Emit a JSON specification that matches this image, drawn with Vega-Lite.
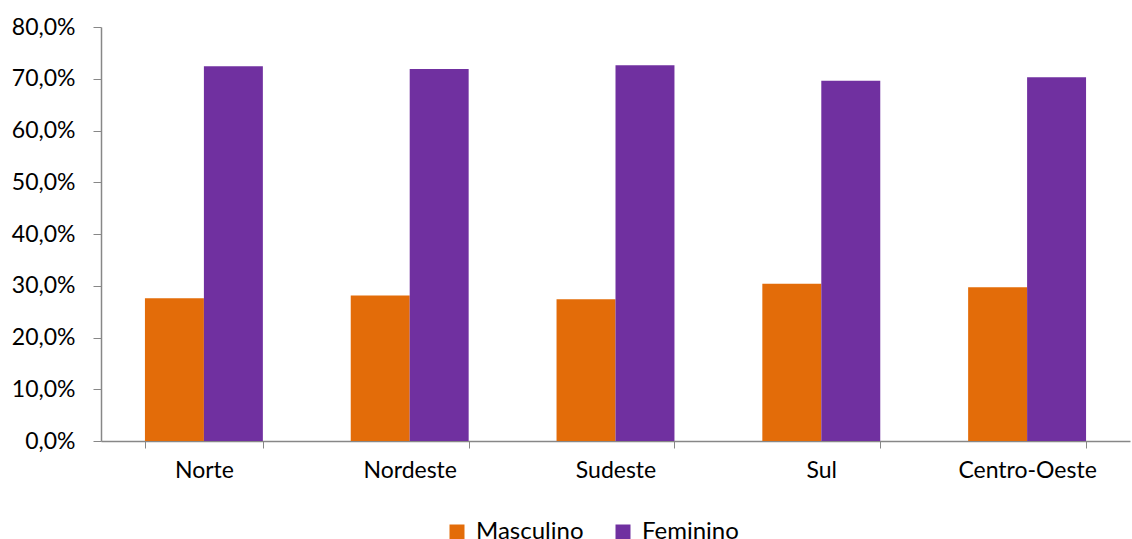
{
  "$schema": "https://vega.github.io/schema/vega-lite/v6.json",
  "autosize": "none",
  "width": 1029,
  "height": 414,
  "padding": {"left": 101, "top": 27, "right": 2, "bottom": 98},
  "background": "white",
  "config": {
    "view": {"stroke": null},
    "font": "Lato",
    "axis": {"labelFont": "Lato", "labelColor": "#000000", "labelFontSize": 23, "domainColor": "#878787", "tickColor": "#878787", "grid": false, "title": null}
  },
  "data": {
    "values": [
      {"regiao": "Norte", "sexo": "Masculino", "valor": 27.6},
      {"regiao": "Norte", "sexo": "Feminino", "valor": 72.4},
      {"regiao": "Nordeste", "sexo": "Masculino", "valor": 28.1},
      {"regiao": "Nordeste", "sexo": "Feminino", "valor": 71.9},
      {"regiao": "Sudeste", "sexo": "Masculino", "valor": 27.4},
      {"regiao": "Sudeste", "sexo": "Feminino", "valor": 72.6},
      {"regiao": "Sul", "sexo": "Masculino", "valor": 30.4},
      {"regiao": "Sul", "sexo": "Feminino", "valor": 69.6},
      {"regiao": "Centro-Oeste", "sexo": "Masculino", "valor": 29.7},
      {"regiao": "Centro-Oeste", "sexo": "Feminino", "valor": 70.3}
    ]
  },
  "mark": {"type": "bar"},
  "encoding": {
    "x": {
      "field": "regiao", "type": "nominal",
      "sort": ["Norte", "Nordeste", "Sudeste", "Sul", "Centro-Oeste"],
      "scale": {"paddingInner": 0.427, "paddingOuter": 0.2135},
      "axis": {"labelAngle": 0, "tickBand": "extent", "tickSize": 7, "labelPadding": 11, "domainWidth": 1.5}
    },
    "xOffset": {"field": "sexo", "type": "nominal", "sort": ["Masculino", "Feminino"], "scale": {"paddingInner": 0, "paddingOuter": 0}},
    "y": {
      "field": "valor", "type": "quantitative",
      "scale": {"domain": [0, 80], "nice": false},
      "axis": {"values": [0, 10, 20, 30, 40, 50, 60, 70, 80], "labelExpr": "replace(format(datum.value, '.1f'), '.', ',') + '%'", "tickSize": 8, "labelPadding": 18, "domainWidth": 1.5}
    },
    "color": {
      "field": "sexo", "type": "nominal",
      "scale": {"domain": ["Masculino", "Feminino"], "range": ["#E36C09", "#7030A0"]},
      "legend": {"title": null, "orient": "none", "direction": "horizontal", "legendX": 344, "legendY": 493, "symbolType": "square", "symbolSize": 225, "symbolStrokeWidth": 0, "symbolOpacity": 1, "labelFontSize": 24, "labelFont": "Lato", "labelColor": "#000000", "columnPadding": 27, "labelOffset": 7}
    }
  }
}
